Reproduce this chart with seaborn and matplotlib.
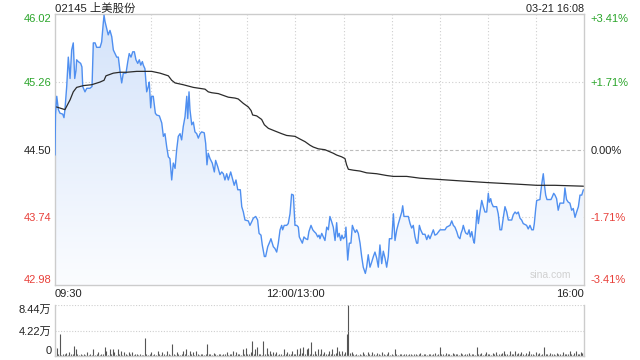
import numpy as np
import matplotlib
matplotlib.use("Agg")
import matplotlib.pyplot as plt
from matplotlib.colors import LinearSegmentedColormap
import seaborn as sns

# ---------------- data ----------------
title = "02145 上美股份"
stamp = "03-21 16:08"
prev_close = 44.50
price_ticks = [42.98, 43.74, 44.50, 45.26, 46.02]
pct_labels = ["-3.41%", "-1.71%", "0.00%", "+1.71%", "+3.41%"]
x_tick_pos = [0, 150, 330]
x_tick_labels = ["09:30", "12:00/13:00", "16:00"]
vol_ticks = [0, 4.22, 8.44]
vol_tick_labels = ["0", "4.22万", "8.44万"]

# minutes since 09:30 (lunch break removed)
price_t = [0.0, 0.3, 1.1, 2.1, 3.1, 4.8, 5.6, 6.2, 7.3, 8.3, 9.4, 10.4, 11.4, 12.3, 13.1, 13.5,
           14.5, 16.0, 16.8, 17.3, 18.7, 19.8, 21.8, 23.1, 23.9, 25.0, 26.0, 28.1, 29.1, 30.1,
           30.6, 31.2, 32.3, 33.2, 34.3, 35.4, 36.4, 38.5, 39.5, 40.5, 41.6, 42.6, 44.3, 45.4,
           46.3, 47.4, 48.5, 49.5, 50.5, 51.6, 52.6, 53.5, 54.5, 55.1, 56.1, 57.2, 58.2, 58.8,
           59.7, 60.3, 61.3, 62.6, 63.4, 65.1, 66.6, 67.6, 68.6, 69.7, 70.7, 71.7, 72.8, 73.8,
           74.9, 75.9, 76.9, 78.0, 79.0, 80.0, 81.1, 82.2, 82.8, 83.6, 84.2, 85.3, 86.3, 87.3,
           88.4, 89.4, 90.5, 91.5, 93.1, 94.0, 94.8, 95.6, 96.7, 98.1, 99.4, 100.2, 101.5, 102.9,
           104.0, 105.0, 106.0, 107.1, 108.1, 109.6, 110.6, 111.8, 112.9, 114.0, 115.6, 116.5,
           117.5, 118.5, 120.6, 121.6, 122.7, 123.7, 125.2, 126.4, 127.3, 128.5, 129.3, 130.6,
           131.4, 132.7, 134.1, 134.7, 136.2, 137.2, 138.3, 139.3, 140.4, 141.4, 142.0, 143.0,
           144.5, 145.5, 146.6, 147.6, 148.7, 149.7, 150.8, 151.8, 152.4, 153.5, 154.3, 155.3,
           156.4, 157.6, 158.4, 159.7, 160.8, 161.7, 162.8, 163.9, 164.7, 165.3, 166.4, 167.4,
           168.4, 169.5, 170.5, 171.5, 172.6, 173.6, 174.7, 175.7, 176.4, 177.3, 178.2, 179.0,
           179.8, 180.9, 181.5, 182.6, 183.6, 184.6, 185.5, 186.5, 187.3, 188.2, 189.2, 190.3,
           191.3, 192.3, 193.6, 194.4, 195.4, 196.5, 197.6, 198.6, 199.6, 200.7, 201.7, 202.7,
           203.8, 204.8, 205.9, 206.9, 207.9, 208.6, 210.1, 211.1, 212.1, 213.2, 214.2, 215.2,
           216.3, 216.9, 217.7, 219.0, 220.4, 221.5, 222.5, 223.5, 224.6, 225.6, 226.3, 227.3,
           228.1, 229.4, 230.8, 231.9, 232.9, 233.9, 235.2, 236.0, 237.0, 238.1, 240.2, 243.3,
           244.3, 246.4, 247.5, 248.5, 249.5, 250.6, 251.6, 252.6, 253.3, 254.1, 254.7, 255.8,
           256.4, 257.4, 258.3, 259.1, 260.0, 261.0, 261.6, 262.5, 263.3, 264.1, 265.1, 266.2,
           267.2, 268.2, 269.3, 270.3, 270.9, 271.8, 272.4, 273.4, 275.5, 276.5, 277.6, 278.6,
           279.6, 280.7, 281.8, 282.8, 284.9, 285.9, 287.0, 288.0, 289.0, 290.1, 291.1, 292.1,
           294.2, 295.2, 296.3, 297.4, 298.4, 299.0, 299.9, 300.5, 302.5, 303.2, 304.0, 304.6,
           305.2, 306.1, 306.9, 309.4, 310.2, 311.1, 311.9, 312.9, 313.9, 315.0, 317.3, 318.1,
           319.1, 320.2, 321.2, 322.3, 323.3, 324.4, 325.4, 326.5, 327.5, 328.6, 329.6]
price_v = [44.44, 44.89, 45.10, 44.95, 44.91, 44.90, 44.86, 44.95, 45.21, 45.54, 45.30, 45.62,
           45.70, 45.30, 45.39, 45.51, 45.49, 45.47, 45.43, 45.21, 45.15, 45.19, 45.19, 45.21,
           45.70, 45.70, 45.65, 45.65, 45.71, 45.92, 46.01, 45.94, 45.86, 45.79, 45.84, 45.77,
           45.62, 45.54, 45.54, 45.39, 45.25, 45.36, 45.36, 45.49, 45.58, 45.54, 45.60, 45.60,
           45.51, 45.47, 45.51, 45.45, 45.49, 45.45, 45.41, 45.15, 45.21, 45.26, 44.97, 45.10,
           45.10, 44.91, 44.89, 44.88, 44.80, 44.65, 44.68, 44.53, 44.42, 44.40, 44.16, 44.35,
           44.29, 44.50, 44.65, 44.68, 44.61, 44.76, 44.87, 45.10, 44.85, 45.15, 44.95, 44.78,
           44.81, 44.70, 44.68, 44.63, 44.68, 44.70, 44.69, 44.57, 44.33, 44.46, 44.40, 44.35,
           44.25, 44.38, 44.31, 44.22, 44.25, 44.23, 44.16, 44.23, 44.16, 44.25, 44.18, 44.10,
           44.16, 44.05, 44.05, 43.86, 43.80, 43.71, 43.70, 43.65, 43.69, 43.73, 43.75, 43.71,
           43.56, 43.54, 43.43, 43.30, 43.30, 43.41, 43.47, 43.50, 43.41, 43.39, 43.35, 43.45,
           43.60, 43.65, 43.60, 43.65, 43.65, 43.67, 43.78, 44.00, 43.99, 43.65, 43.65, 43.63,
           43.52, 43.48, 43.45, 43.52, 43.50, 43.49, 43.58, 43.65, 43.60, 43.58, 43.56, 43.52,
           43.54, 43.50, 43.56, 43.52, 43.48, 43.63, 43.60, 43.75, 43.69, 43.63, 43.48, 43.68,
           43.52, 43.56, 43.48, 43.54, 43.50, 43.52, 43.63, 43.26, 43.45, 43.45, 43.65, 43.60,
           43.57, 43.60, 43.56, 43.45, 43.30, 43.18, 43.11, 43.18, 43.32, 43.18, 43.24, 43.30,
           43.35, 43.28, 43.18, 43.43, 43.22, 43.36, 43.28, 43.18, 43.30, 43.50, 43.50, 43.78,
           43.48, 43.60, 43.67, 43.73, 43.80, 43.87, 43.75, 43.75, 43.75, 43.67, 43.62, 43.65,
           43.52, 43.45, 43.45, 43.65, 43.60, 43.55, 43.55, 43.49, 43.54, 43.50, 43.56, 43.60,
           43.54, 43.55, 43.60, 43.60, 43.63, 43.65, 43.70, 43.65, 43.63, 43.58, 43.52, 43.50,
           43.56, 43.60, 43.65, 43.58, 43.56, 43.55, 43.60, 43.52, 43.58, 43.48, 43.45, 43.63,
           43.82, 43.67, 43.80, 43.93, 43.86, 43.80, 43.80, 44.01, 43.91, 43.95, 43.90, 43.86,
           43.86, 43.78, 43.60, 43.60, 43.73, 43.86, 43.80, 43.71, 43.71, 43.77, 43.80, 43.78,
           43.80, 43.73, 43.71, 43.67, 43.65, 43.61, 43.65, 43.60, 43.60, 43.67, 43.84, 43.93,
           43.94, 44.05, 44.16, 44.23, 44.12, 43.99, 43.94, 43.94, 43.97, 44.01, 43.99, 43.95,
           43.82, 43.90, 43.90, 44.07, 43.94, 43.91, 43.90, 43.82, 43.84, 43.74, 43.80, 43.86,
           43.99, 43.99, 44.05]

avg_t = [1.0, 6.2, 9.4, 11.4, 13.5, 17.7, 22.9, 28.1, 30.6, 31.8, 36.4, 40.5, 44.7, 51.0, 56.1,
         60.3, 65.5, 70.7, 72.8, 74.9, 80.0, 86.3, 93.6, 95.6, 97.8, 101.9, 105.0, 108.1, 112.3,
         114.3, 117.5, 120.6, 122.3, 123.3, 125.8, 128.9, 130.6, 133.1, 137.2, 141.4, 144.5,
         149.7, 152.8, 156.0, 159.1, 161.1, 164.2, 168.4, 173.6, 175.7, 178.8, 180.9, 181.9,
         183.0, 186.1, 190.3, 194.4, 200.7, 206.9, 211.1, 219.4, 227.7, 236.0, 244.3, 252.6,
         270.3, 291.1, 300.5, 311.9, 329.6]
avg_v = [44.98, 44.95, 45.06, 45.15, 45.20, 45.22, 45.23, 45.26, 45.28, 45.33, 45.36, 45.37,
         45.37, 45.38, 45.38, 45.38, 45.36, 45.33, 45.28, 45.25, 45.23, 45.20, 45.18, 45.15,
         45.14, 45.13, 45.11, 45.09, 45.08, 45.07, 45.02, 44.98, 44.94, 44.89, 44.88, 44.84,
         44.78, 44.74, 44.71, 44.68, 44.66, 44.65, 44.62, 44.59, 44.55, 44.53, 44.51, 44.50,
         44.46, 44.44, 44.42, 44.40, 44.33, 44.28, 44.27, 44.26, 44.24, 44.23, 44.21, 44.20,
         44.20, 44.18, 44.17, 44.16, 44.15, 44.13, 44.11, 44.10, 44.10, 44.09]

# per-minute volume, in 万 shares
volume = [1.5, 1.4, 0.3, 3.6, 0.2, 0.4, 0.3, 0.5, 0.2, 0.6,
          0.3, 0.4, 1.7, 1.1, 0.3, 0.2, 0.4, 0.2, 0.3, 0.1,
          0.6, 0.2, 0.3, 0.1, 1.1, 0.2, 0.3, 0.7, 0.2, 0.4,
          0.3, 1.5, 0.9, 0.2, 1.2, 0.3, 1.2, 0.7, 0.2, 1.1,
          0.3, 0.8, 0.2, 0.6, 0.3, 0.2, 0.7, 0.3, 0.6, 0.2,
          0.3, 0.4, 0.2, 0.3, 0.1, 0.2, 3.05, 0.3, 0.2, 0.4,
          0.7, 0.2, 0.3, 0.2, 0.9, 0.3, 0.2, 0.6, 0.3, 0.2,
          0.9, 0.3, 0.2, 2.0, 0.3, 0.2, 0.7, 0.3, 0.2, 0.4,
          0.9, 0.3, 1.1, 0.2, 0.9, 0.4, 0.7, 0.2, 0.8, 0.3,
          0.2, 0.4, 0.3, 0.2, 0.3, 2.0, 0.4, 0.3, 0.2, 0.5,
          0.3, 0.2, 0.4, 0.3, 0.2, 0.4, 0.3, 0.7, 0.2, 0.3,
          0.4, 0.8, 0.2, 0.6, 0.3, 0.4, 0.2, 1.1, 0.3, 1.3,
          0.4, 0.3, 0.6, 2.5, 0.4, 1.1, 1.5, 0.3, 0.4, 0.2,
          2.4, 0.4, 1.3, 0.3, 0.9, 0.4, 0.7, 0.3, 0.6, 0.2,
          0.3, 0.4, 0.2, 1.1, 0.3, 0.7, 0.4, 0.3, 0.9, 0.4,
          0.3, 1.2, 0.4, 1.3, 0.5, 1.5, 0.3, 1.1, 1.3, 0.4,
          2.3, 0.3, 0.9, 0.4, 1.1, 0.3, 1.2, 0.4, 0.7, 0.3,
          0.4, 0.9, 0.3, 1.2, 0.4, 0.5, 1.5, 0.9, 0.3, 0.8,
          0.4, 0.7, 3.7, 8.44, 0.5, 0.6, 0.3, 0.2, 0.4, 0.2,
          0.3, 0.2, 0.6, 0.3, 0.2, 0.7, 0.3, 0.2, 0.6, 0.3,
          0.2, 0.5, 0.3, 0.2, 0.6, 0.3, 0.2, 0.4, 0.7, 0.2,
          0.3, 0.2, 1.2, 0.3, 0.2, 0.4, 0.3, 0.2, 0.4, 0.3,
          0.2, 0.4, 0.3, 0.2, 0.3, 0.4, 0.2, 0.3, 0.5, 0.2,
          0.3, 0.4, 0.2, 0.3, 0.4, 0.2, 0.3, 0.5, 0.2, 0.3,
          1.5, 0.3, 0.4, 0.2, 0.5, 0.3, 0.4, 0.2, 0.5, 0.3,
          0.4, 0.3, 0.2, 0.5, 0.3, 0.2, 0.4, 0.3, 0.5, 0.2,
          0.3, 0.4, 0.2, 1.5, 0.4, 0.3, 0.5, 0.2, 0.4, 0.7,
          0.3, 0.4, 0.2, 0.5, 0.3, 0.7, 0.2, 0.4, 0.3, 0.5,
          0.8, 0.3, 0.4, 0.2, 0.8, 0.3, 0.4, 0.9, 0.3, 0.5,
          0.3, 0.7, 0.4, 0.2, 0.5, 0.3, 0.8, 0.3, 0.4, 0.2,
          0.7, 0.3, 0.5, 0.2, 0.4, 1.5, 0.3, 0.4, 0.2, 0.5,
          0.3, 0.4, 0.2, 0.5, 0.3, 0.4, 0.2, 0.7, 0.3, 0.4,
          0.3, 0.8, 0.4, 0.2, 0.5, 0.9, 0.3, 0.4, 0.7, 0.5,
          0.6]
vol_t = list(range(len(volume)))

# ---------------- style ----------------
sns.set_style("white")
plt.rcParams["font.family"] = ["Liberation Sans", "Noto Sans CJK SC", "DejaVu Sans"]

UP = "#2aa52a"
DOWN = "#e8403a"
GRID = "#cfcfcf"
BORDER = "#cccccc"
LINE = "#4f8ff0"

W, H = 640, 360
fig = plt.figure(figsize=(6.4, 3.6), dpi=100)
ax = fig.add_axes([55 / W, 1 - 285 / H, (584 - 55) / W, (285 - 14.4) / H])
axv = fig.add_axes([55 / W, 1 - 356 / H, (584 - 55) / W, (356 - 305) / H], sharex=ax)

ymin, ymax = price_ticks[0], price_ticks[-1]

# gradient area under price
poly = ax.fill_between(price_t, price_v, ymin, color="none", lw=0)
cmap = LinearSegmentedColormap.from_list("g", [(0.985, 0.99, 1.0), (0.83, 0.89, 0.98)])
grad = np.linspace(1, 0, 256).reshape(-1, 1)
im = ax.imshow(grad, extent=[0, 330, ymin, ymax], aspect="auto", cmap=cmap,
               origin="upper", zorder=1)
im.set_clip_path(poly.get_paths()[0], transform=ax.transData)

# grid
for lvl in price_ticks[1:-1]:
    if lvl == prev_close:
        ax.axhline(lvl, color="#bdbdbd", lw=0.8, ls=(0, (3, 2)), zorder=0.5)
    else:
        ax.axhline(lvl, color=GRID, lw=0.8, ls=(0, (1, 2)), zorder=0.5)
for m in range(30, 330, 30):
    ax.axvline(m, color=GRID, lw=0.8, ls=(0, (1, 2)), zorder=0.5)

sns.lineplot(x=price_t, y=price_v, ax=ax, color=LINE, lw=1.0, estimator=None,
             sort=False, zorder=3)
sns.lineplot(x=avg_t, y=avg_v, ax=ax, color="#2b2b2b", lw=0.9, estimator=None,
             sort=False, zorder=4)

ax.set_xlim(0, 330)
ax.set_ylim(ymin, ymax)
for s in ax.spines.values():
    s.set_color(BORDER)
    s.set_linewidth(1)

colors = [DOWN, DOWN, "#222222", UP, UP]
ax.set_yticks(price_ticks)
ax.set_yticklabels([f"{v:.2f}" for v in price_ticks])
ax.tick_params(axis="y", length=0, pad=2.5, labelsize=8)
for i, lab in enumerate(ax.get_yticklabels()):
    lab.set_color(colors[i])
    if i == 0:
        lab.set_va("bottom")
    elif i == len(price_ticks) - 1:
        lab.set_va("top")

axr = ax.twinx()
axr.set_ylim(ymin, ymax)
axr.set_yticks(price_ticks)
axr.set_yticklabels(pct_labels)
axr.tick_params(axis="y", length=0, pad=4.5, labelsize=8)
for i, lab in enumerate(axr.get_yticklabels()):
    lab.set_color(colors[i])
    if i == 0:
        lab.set_va("bottom")
    elif i == len(price_ticks) - 1:
        lab.set_va("top")
for s in axr.spines.values():
    s.set_visible(False)

ax.set_xticks(x_tick_pos)
ax.set_xticklabels(x_tick_labels)
ax.tick_params(axis="x", length=0, pad=3, labelsize=8, labelcolor="#222222")
xl = ax.get_xticklabels()
xl[0].set_ha("left")
xl[-1].set_ha("right")
ax.set_xlabel("")
ax.set_ylabel("")

ax.text(0.975, 0.02, "sina.com", transform=ax.transAxes, ha="right", va="bottom",
        color="#d0d0d0", fontsize=7.5, zorder=5)

# volume panel
axv.vlines(vol_t, 0, volume, color="#555555", lw=0.8)
axv.set_ylim(0, vol_ticks[-1])
axv.axhline(vol_ticks[1], color=GRID, lw=0.8, ls=(0, (1, 1.5)))
axv.axhline(vol_ticks[2], color=GRID, lw=0.8, ls=(0, (1, 1.5)))
for k, s in axv.spines.items():
    s.set_color(BORDER)
    s.set_linewidth(1)
axv.spines["top"].set_visible(False)
axv.set_yticks(vol_ticks)
axv.set_yticklabels(vol_tick_labels)
axv.tick_params(axis="y", length=0, pad=2.5, labelsize=8, labelcolor="#222222")
vl = axv.get_yticklabels()
vl[0].set_va("bottom")
vl[-1].set_va("top")
axv.tick_params(axis="x", length=0, labelbottom=False)

fig.text(55 / W, 1 - 8.5 / H, title, ha="left", va="center", fontsize=8.2, color="#222222")
fig.text(584 / W, 1 - 8.5 / H, stamp, ha="right", va="center", fontsize=7.8, color="#222222")

fig.savefig("out.png", dpi=100)
